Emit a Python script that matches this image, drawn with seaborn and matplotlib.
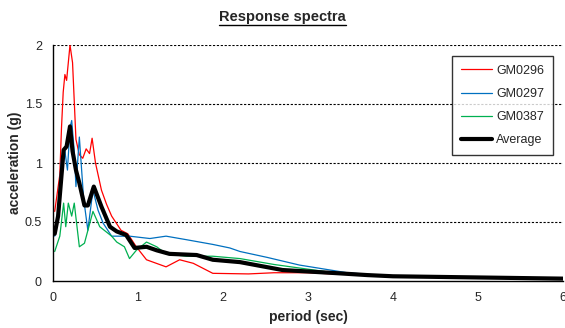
import matplotlib
matplotlib.use("Agg")
import matplotlib.pyplot as plt
import seaborn as sns
import pandas as pd
from matplotlib.lines import Line2D

# ---- data ----
gm0296_x = [0.02, 0.08, 0.1, 0.12, 0.14, 0.16, 0.2, 0.23, 0.27, 0.31, 0.35, 0.39, 0.43, 0.46, 0.5, 0.57, 0.63,
            0.69, 0.8, 0.88, 0.98, 1.1, 1.33, 1.49, 1.65, 1.88, 2.3, 2.6, 3.0, 3.3, 4, 5, 6]
gm0296_y = [0.59, 0.9, 1.3, 1.6, 1.75, 1.7, 2.0, 1.85, 1.2, 1.07, 1.04, 1.12, 1.08, 1.21, 1.0, 0.77, 0.65,
            0.55, 0.43, 0.40, 0.29, 0.18, 0.12, 0.18, 0.15, 0.065, 0.06, 0.07, 0.07, 0.06, 0.04, 0.03, 0.02]

gm0297_x = [0.02, 0.06, 0.1, 0.14, 0.17, 0.2, 0.22, 0.25, 0.27, 0.31, 0.36, 0.41, 0.47, 0.53, 0.59, 0.69,
            0.9, 1.14, 1.33, 1.57, 1.88, 2.08, 2.2, 2.52, 2.9, 3.46, 4, 5, 6]
gm0297_y = [0.38, 0.6, 1.05, 1.1, 0.94, 1.3, 1.36, 1.1, 0.8, 1.22, 0.7, 0.43, 0.77, 0.6, 0.49, 0.38,
            0.38, 0.36, 0.38, 0.35, 0.31, 0.28, 0.25, 0.20, 0.135, 0.07, 0.04, 0.03, 0.02]

gm0387_x = [0.02, 0.08, 0.125, 0.15, 0.18, 0.22, 0.25, 0.31, 0.37, 0.47, 0.55, 0.69, 0.75, 0.84, 0.9,
            0.98, 1.1, 1.22, 1.33, 1.57, 1.88, 2.2, 2.6, 3.0, 3.3, 4, 5, 6]
gm0387_y = [0.25, 0.38, 0.66, 0.46, 0.66, 0.55, 0.66, 0.29, 0.32, 0.59, 0.46, 0.38, 0.33, 0.29, 0.19,
            0.26, 0.33, 0.29, 0.23, 0.21, 0.21, 0.19, 0.14, 0.1, 0.07, 0.04, 0.03, 0.02]

avg_x = [0.02, 0.06, 0.125, 0.16, 0.2, 0.23, 0.27, 0.31, 0.37, 0.41, 0.48, 0.57, 0.67, 0.75, 0.86, 0.96,
         1.1, 1.22, 1.37, 1.69, 1.88, 2.2, 2.7, 3.3, 3.7, 4, 4.5, 5, 5.5, 6]
avg_y = [0.40, 0.55, 1.11, 1.14, 1.31, 1.1, 0.94, 0.83, 0.64, 0.64, 0.8, 0.63, 0.46, 0.42, 0.39, 0.28,
         0.29, 0.26, 0.23, 0.22, 0.18, 0.16, 0.093, 0.068, 0.05, 0.04, 0.035, 0.03, 0.025, 0.02]

x_ticks = [0, 1, 2, 3, 4, 5, 6]
y_ticks = [0, 0.5, 1, 1.5, 2]
y_tick_labels = ["0", "0.5", "1", "1.5", "2"]

# ---- style ----
sns.set_style("white")
plt.rcParams["font.family"] = ["Liberation Sans", "DejaVu Sans"]

fig = plt.figure(figsize=(5.65, 3.28), dpi=100)
ax = fig.add_axes([53 / 565, 1 - 281 / 328, 510 / 565, 236 / 328])

series = [
    ("GM0296", gm0296_x, gm0296_y, "#FF0000", 0.9),
    ("GM0297", gm0297_x, gm0297_y, "#0070C0", 0.9),
    ("GM0387", gm0387_x, gm0387_y, "#00B050", 0.9),
    ("Average", avg_x, avg_y, "#000000", 3.0),
]
for name, xs, ys, col, lw in series:
    df = pd.DataFrame({"period": xs, "acc": ys})
    sns.lineplot(data=df, x="period", y="acc", ax=ax, color=col, linewidth=lw,
                 label=name, estimator=None, sort=False)

ax.set_xlim(0, 6)
ax.set_ylim(0, 2)
ax.set_xticks(x_ticks)
ax.set_xticklabels([str(t) for t in x_ticks])
ax.set_yticks(y_ticks)
ax.set_yticklabels(y_tick_labels)
ax.tick_params(axis="both", length=0, labelsize=9, pad=8)

for yv in [0.5, 1, 1.5, 2]:
    ax.axhline(yv, color="black", linestyle=(0, (2, 1.5)), linewidth=0.8, zorder=0)

for s in ["top", "right"]:
    ax.spines[s].set_visible(False)
for s in ["left", "bottom"]:
    ax.spines[s].set_color("black")
    ax.spines[s].set_linewidth(1.0)

ax.set_xlabel("period (sec)", fontsize=10, fontweight="bold", labelpad=4)
ax.set_ylabel("acceleration (g)", fontsize=10, fontweight="bold", labelpad=2)

leg = ax.legend(loc="upper right", bbox_to_anchor=(0.993, 0.98), frameon=True, fancybox=False,
                edgecolor="black", fontsize=9, handlelength=2.5, labelspacing=0.9,
                borderpad=0.7, handletextpad=0.35)
leg.get_frame().set_linewidth(1.0)

title = fig.text(0.5, 1 - 17 / 328, "Response spectra", ha="center", va="center",
                 fontsize=10.5, fontweight="bold")

fig.canvas.draw()
bb = title.get_window_extent().transformed(fig.transFigure.inverted())
fig.add_artist(Line2D([bb.x0, bb.x1], [bb.y0 - 0.004, bb.y0 - 0.004], color="black",
                      linewidth=1.0, transform=fig.transFigure))

fig.savefig("out.png", dpi=100)
